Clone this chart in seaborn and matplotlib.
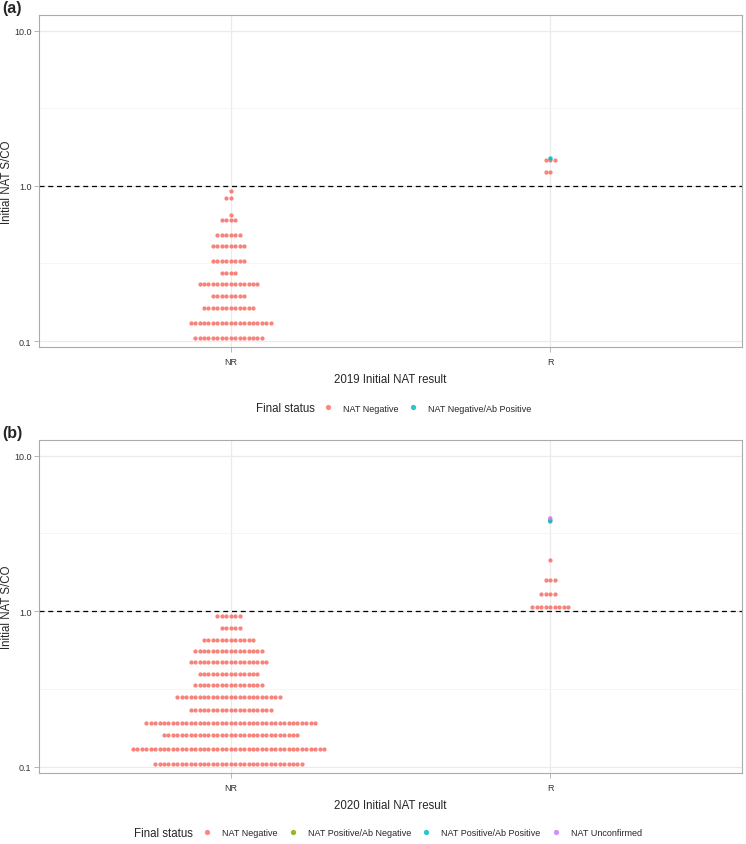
import seaborn as sns
import matplotlib.pyplot as plt
import matplotlib.ticker as mticker
from matplotlib.lines import Line2D
import numpy as np
import pandas as pd

# ---- panel (a): 2019 ----
nr19_vals = [0.93, 0.84, 0.65, 0.60, 0.48, 0.41, 0.33, 0.275, 0.234, 0.196, 0.162, 0.13, 0.105]
nr19_counts = [1, 2, 1, 4, 6, 8, 8, 4, 14, 8, 12, 19, 16]
r19_vals = [1.47, 1.23]
r19_counts = [3, 2]
r19_other_status = ["NAT Negative/Ab Positive"]
r19_other_vals = [1.5]

# ---- panel (b): 2020 ----
nr20_vals = [0.93, 0.78, 0.65, 0.553, 0.47, 0.394, 0.334, 0.28, 0.234, 0.193, 0.16, 0.13, 0.105]
nr20_counts = [6, 5, 12, 16, 18, 14, 16, 24, 19, 39, 31, 44, 34]
r20_vals = [2.13, 1.58, 1.29, 1.06]
r20_counts = [1, 3, 4, 9]
r20_other_status = ["NAT Positive/Ab Negative", "NAT Positive/Ab Positive", "NAT Unconfirmed"]
r20_other_vals = [3.85, 3.78, 3.95]

result_order = ["NR", "R"]
status_colors = {
    "NAT Negative": "#F8766D",
    "NAT Positive/Ab Negative": "#7CAE00",
    "NAT Negative/Ab Positive": "#00BFC4",
    "NAT Positive/Ab Positive": "#00BFC4",
    "NAT Unconfirmed": "#C77CFF",
}
legend19 = ["NAT Negative", "NAT Negative/Ab Positive"]
legend20 = ["NAT Negative", "NAT Positive/Ab Negative", "NAT Positive/Ab Positive", "NAT Unconfirmed"]

sns.set_theme(style="white")
plt.rcParams['font.family'] = ['Liberation Sans', 'DejaVu Sans']

W, H = 746, 845
fig = plt.figure(figsize=(W / 100, H / 100), dpi=100)


def add_ax(top, bottom, left=39, right=742):
    return fig.add_axes([left / W, 1 - bottom / H, (right - left) / W, (bottom - top) / H])


def expand(result, vals, counts, status="NAT Negative"):
    return pd.DataFrame({"result": result, "value": np.repeat(vals, counts), "status": status})


def draw_panel(ax, neg, other, xlabel):
    sns.swarmplot(data=neg, x="result", y="value", order=result_order,
                  color=status_colors["NAT Negative"], size=3.05, linewidth=0,
                  alpha=0.9, log_scale=True, ax=ax)
    sns.stripplot(data=other, x="result", y="value", order=result_order,
                  hue="status", palette=status_colors, jitter=False, size=3.2,
                  linewidth=0, alpha=0.9, log_scale=True, legend=False, ax=ax)
    ax.axhline(1.0, color="black", lw=0.9, ls=(0, (4, 3)), zorder=1)
    ax.set_xlim(-0.6, 1.6)
    ax.set_ylim(0.0915, 12.6)
    ax.set_yticks([0.1, 1, 10])
    ax.set_yticklabels(["0.1", "1.0", "10.0"])
    ax.yaxis.set_minor_locator(mticker.FixedLocator([10 ** -0.5, 10 ** 0.5]))
    ax.yaxis.set_minor_formatter(mticker.NullFormatter())
    ax.grid(True, which="major", color="#EBEBEB", lw=0.9)
    ax.grid(True, which="minor", axis="y", color="#F2F2F2", lw=0.5)
    ax.set_axisbelow(True)
    for s in ax.spines.values():
        s.set_color("#ABABAB")
        s.set_linewidth(0.8)
    ax.tick_params(which="major", length=3.5, width=0.6, color="#ABABAB",
                   labelsize=6.5, labelcolor="#333333", pad=2,
                   bottom=True, left=True)
    ax.tick_params(axis="x", which="major", pad=4)
    ax.tick_params(which="minor", length=0)
    ax.set_xlabel(xlabel, fontsize=8.3, labelpad=5)
    ax.set_ylabel("Initial NAT S/CO", fontsize=8.3)
    ax.yaxis.set_label_coords(-26 / 703, 0.5)


def add_legend(title_x, dot_x, y, labels, colspace):
    fig.text(title_x / W, 1 - y / H, "Final status", fontsize=8.3, va="center", ha="left")
    handles = [Line2D([], [], marker="o", ls="", color=status_colors[l], alpha=0.85,
                      markersize=3.8, markeredgewidth=0) for l in labels]
    fig.legend(handles, labels, ncol=len(labels), loc="center left",
               bbox_to_anchor=((dot_x - 4.5) / W, 1 - y / H), frameon=False,
               fontsize=6.5, handlelength=1, handletextpad=1.15,
               columnspacing=colspace, borderpad=0, borderaxespad=0)


# panel (a)
neg19 = pd.concat([expand("NR", nr19_vals, nr19_counts), expand("R", r19_vals, r19_counts)])
oth19 = pd.DataFrame({"result": "R", "value": r19_other_vals, "status": r19_other_status})
ax1 = add_ax(16, 348)
draw_panel(ax1, neg19, oth19, "2019 Initial NAT result")
add_legend(256, 328, 409, legend19, 1.1)
fig.text(2 / W, 1 - 9 / H, "(a)", fontsize=11.5, fontweight="bold", va="center")

# panel (b)
neg20 = pd.concat([expand("NR", nr20_vals, nr20_counts), expand("R", r20_vals, r20_counts)])
oth20 = pd.DataFrame({"result": "R", "value": r20_other_vals, "status": r20_other_status})
ax2 = add_ax(441, 774)
draw_panel(ax2, neg20, oth20, "2020 Initial NAT result")
add_legend(134, 207, 834, legend20, 1.2)
fig.text(2 / W, 1 - 434 / H, "(b)", fontsize=11.5, fontweight="bold", va="center")

fig.savefig("out.png", dpi=100)
